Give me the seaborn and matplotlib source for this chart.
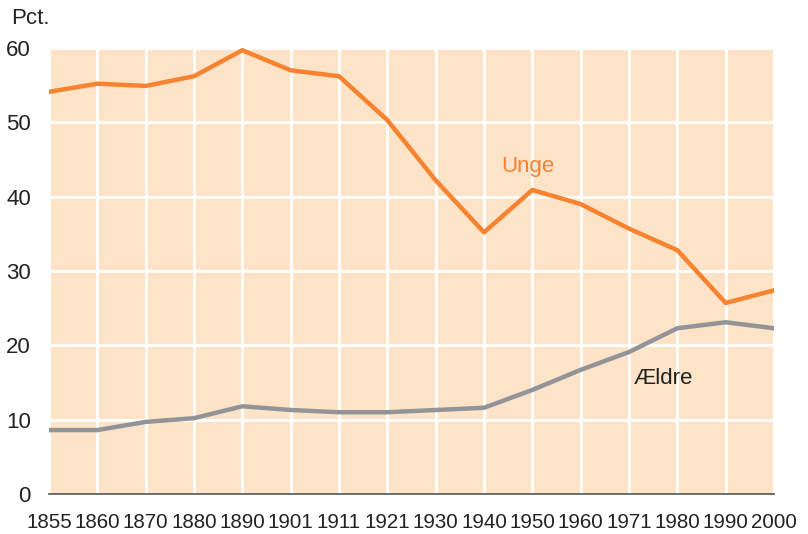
import matplotlib
matplotlib.use("Agg")
import matplotlib.pyplot as plt
import seaborn as sns
import pandas as pd
import numpy as np

years = ["1855", "1860", "1870", "1880", "1890", "1901", "1911", "1921",
         "1930", "1940", "1950", "1960", "1971", "1980", "1990", "2000"]
unge = [54.1, 55.2, 54.9, 56.2, 59.7, 57.0, 56.2, 50.3,
        42.2, 35.2, 40.9, 39.0, 35.7, 32.8, 25.7, 27.4]
aeldre = [8.6, 8.6, 9.7, 10.2, 11.8, 11.3, 11.0, 11.0,
          11.3, 11.6, 14.0, 16.7, 19.1, 22.3, 23.1, 22.3]
yticks = [0, 10, 20, 30, 40, 50, 60]

sns.set_theme(style="white")
plt.rcParams['font.family'] = ['Liberation Sans', 'DejaVu Sans']

pos = list(range(len(years)))
df = pd.DataFrame({"pos": pos * 2,
                   "value": unge + aeldre,
                   "serie": ["Unge"] * len(years) + ["Ældre"] * len(years)})

fig = plt.figure(figsize=(8.08, 5.34), dpi=100)
ax = fig.add_axes([49/808, 1 - 494/534, 725/808, 446/534])
ax.set_facecolor("#FDE4C9")

sns.lineplot(data=df, x="pos", y="value", hue="serie",
             palette={"Unge": "#F7822F", "Ældre": "#929497"},
             linewidth=3.2, legend=False, ax=ax, zorder=3)

ax.set_xlim(0, len(years) - 1)
ax.set_ylim(0, 60)
ax.set_xticks(pos)
ax.set_xticklabels(years)
ax.set_yticks(yticks)
ax.set_yticklabels([str(t) for t in yticks])
ax.grid(True, color="white", linewidth=2, zorder=1)
ax.set_axisbelow(True)
for s in ["top", "right", "left"]:
    ax.spines[s].set_visible(False)
ax.spines["bottom"].set_color("#555555")
ax.spines["bottom"].set_linewidth(1.2)
ax.tick_params(axis="x", length=0, labelsize=14.8, colors="#222222", pad=14)
ax.tick_params(axis="y", length=0, labelsize=16, colors="#222222", pad=13)
ax.set_xlabel("")
ax.set_ylabel("")

fig.text(11/808, 1 - 19/534, "Pct.", fontsize=16, color="#222222", va="center", ha="left")
ax.text(9.91, 44.0, "Unge", fontsize=16, color="#F7822F", ha="center", va="center")
ax.text(12.72, 15.6, "Ældre", fontsize=16, color="#222222", ha="center", va="center")

fig.savefig("out.png", dpi=100)
